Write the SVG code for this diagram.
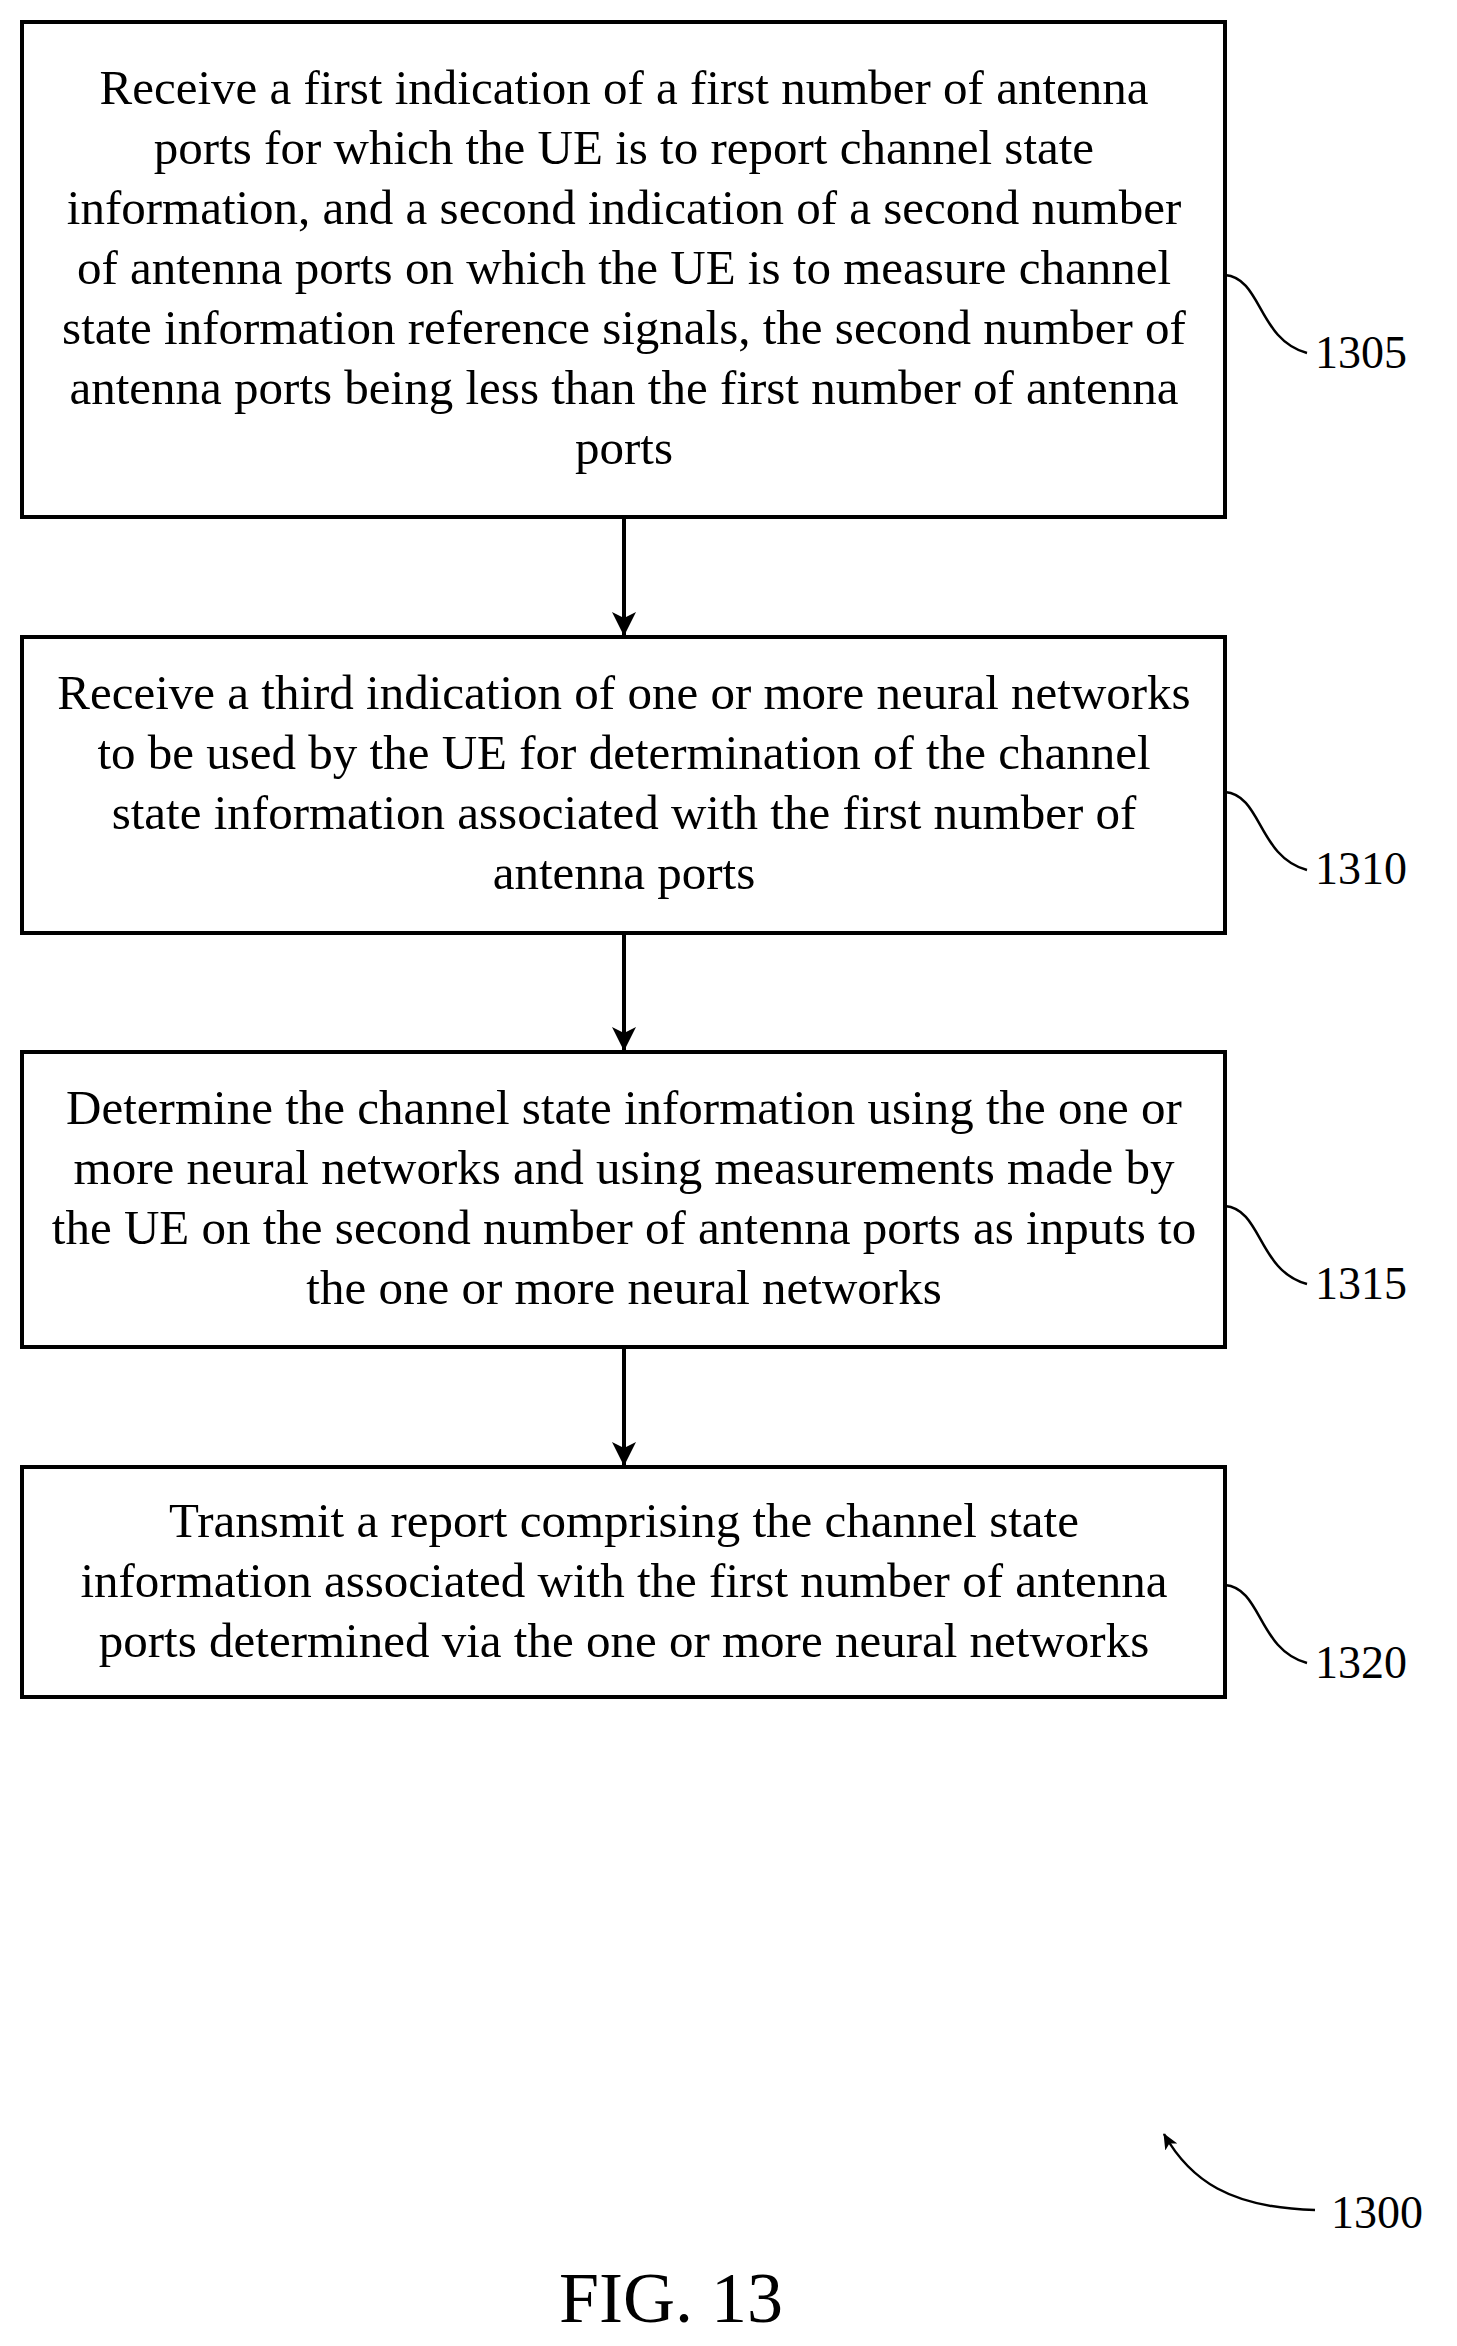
<svg xmlns="http://www.w3.org/2000/svg" width="1457" height="2346" viewBox="0 0 1457 2346">
<style>
.b{fill:#fff;stroke:#000;stroke-width:4}
.t{font-family:"Liberation Serif",serif;font-size:49px;text-anchor:middle;fill:#000}
.l{font-family:"Liberation Serif",serif;font-size:46px;fill:#000}
.c{fill:none;stroke:#000;stroke-width:2.5}
.a{stroke:#000;stroke-width:4;fill:none}
</style>
<defs>
<marker id="ah2" markerWidth="16" markerHeight="14" refX="15" refY="7" orient="auto" markerUnits="userSpaceOnUse"><path d="M0,0 L16,7 L0,14 L4,7 Z" fill="#000"/></marker>
<marker id="ah3" markerWidth="24" markerHeight="24" refX="24" refY="12" orient="auto" markerUnits="userSpaceOnUse"><path d="M0,0 L24,12 L0,24 L6,12 Z" fill="#000"/></marker></defs>
<g id="n1305"><rect class="b" x="22" y="22" width="1203" height="495"/>
<text class="t"><tspan x="624" y="104">Receive a first indication of a first number of antenna</tspan><tspan x="624" y="164">ports for which the UE is to report channel state</tspan><tspan x="624" y="224">information, and a second indication of a second number</tspan><tspan x="624" y="284">of antenna ports on which the UE is to measure channel</tspan><tspan x="624" y="344">state information reference signals, the second number of</tspan><tspan x="624" y="404">antenna ports being less than the first number of antenna</tspan><tspan x="624" y="464">ports</tspan></text>
<path class="c" d="M1225,275 C1262,278 1258,340 1307,353"/><text class="l" x="1315" y="368">1305</text></g>
<g id="n1310"><rect class="b" x="22" y="637" width="1203" height="296"/>
<text class="t"><tspan x="624" y="709">Receive a third indication of one or more neural networks</tspan><tspan x="624" y="769">to be used by the UE for determination of the channel</tspan><tspan x="624" y="829">state information associated with the first number of</tspan><tspan x="624" y="889">antenna ports</tspan></text>
<path class="c" d="M1225,792 C1262,795 1258,857 1307,870"/><text class="l" x="1315" y="884">1310</text></g>
<g id="n1315"><rect class="b" x="22" y="1052" width="1203" height="295"/>
<text class="t"><tspan x="624" y="1124">Determine the channel state information using the one or</tspan><tspan x="624" y="1184">more neural networks and using measurements made by</tspan><tspan x="624" y="1244">the UE on the second number of antenna ports as inputs to</tspan><tspan x="624" y="1304">the one or more neural networks</tspan></text>
<path class="c" d="M1225,1206 C1262,1209 1258,1271 1307,1284"/><text class="l" x="1315" y="1299">1315</text></g>
<g id="n1320"><rect class="b" x="22" y="1467" width="1203" height="230"/>
<text class="t"><tspan x="624" y="1537">Transmit a report comprising the channel state</tspan><tspan x="624" y="1597">information associated with the first number of antenna</tspan><tspan x="624" y="1657">ports determined via the one or more neural networks</tspan></text>
<path class="c" d="M1225,1585 C1262,1588 1258,1650 1307,1663"/><text class="l" x="1315" y="1678">1320</text></g>
<g id="connectors">
<line class="a" x1="624" y1="517" x2="624" y2="636" marker-end="url(#ah3)"/>
<line class="a" x1="624" y1="933" x2="624" y2="1051" marker-end="url(#ah3)"/>
<line class="a" x1="624" y1="1347" x2="624" y2="1466" marker-end="url(#ah3)"/>
</g>
<g id="ref1300"><path class="c" d="M1315,2210 C1230,2208 1190,2180 1164,2134" marker-end="url(#ah2)"/><text class="l" x="1331" y="2228" font-size="50">1300</text></g>
<text x="671" y="2322" font-family="'Liberation Serif',serif" font-size="72" text-anchor="middle">FIG. 13</text>
</svg>
